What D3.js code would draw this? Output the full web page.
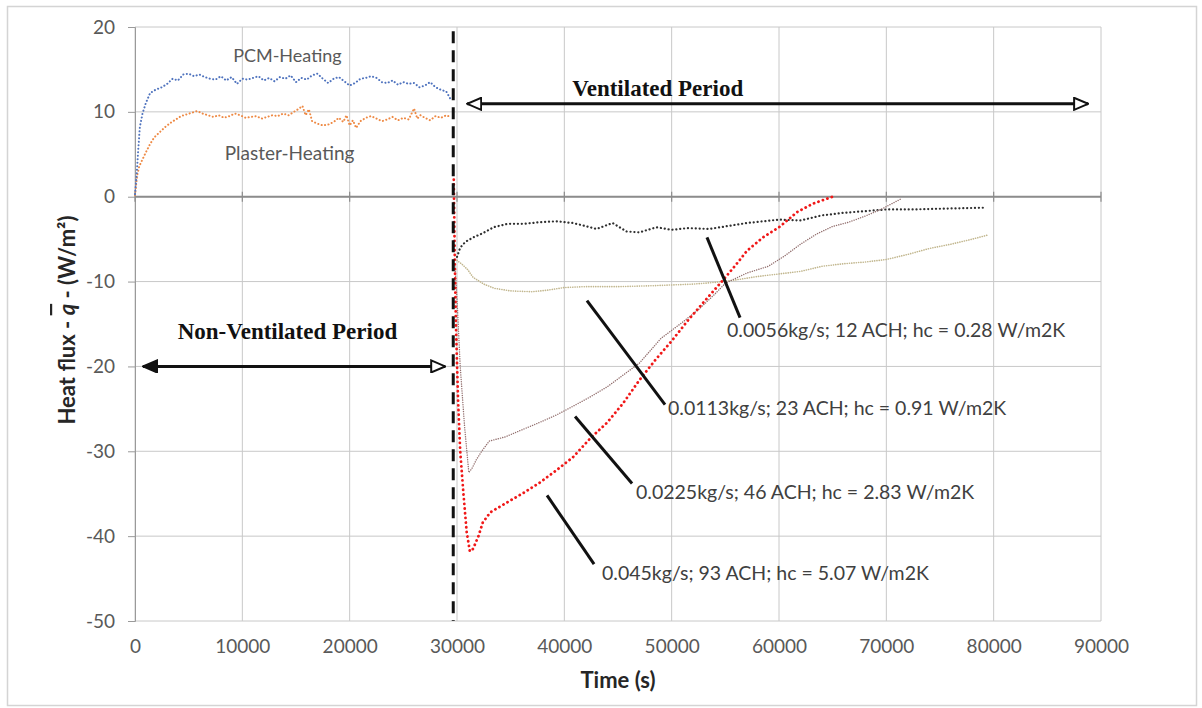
<!DOCTYPE html>
<html>
<head>
<meta charset="utf-8">
<script src="https://cdn.jsdelivr.net/npm/d3@7"></script>
<style>
  body { margin: 0; background: #fff; }
  text { font-family: Lato, "Open Sans", sans-serif; }
</style>
</head>
<body>
<svg id="chart"></svg>
<script>
// ---- data (time in s, heat flux in W/m2) ----
const xTicks = [0, 10000, 20000, 30000, 40000, 50000, 60000, 70000, 80000, 90000];
const yTicks = [20, 10, 0, -10, -20, -30, -40, -50];

const pcmHeating = [[0,0.3],[150,2.5],[300,5.5],[450,8.2],[700,9.8],[1000,11],[1400,12.2],[1900,12.6],[2500,12.9],[3000,13.3],[3500,13.9],[4000,13.7],[4500,14.4],[5000,14.5],[5500,14.2],[6000,14.4],[6500,14.1],[7000,13.9],[7500,13.8],[8000,14.2],[8500,13.7],[9000,14.1],[9500,13.3],[10000,13.9],[10500,13.8],[11000,14.0],[11500,14.2],[12000,13.7],[12500,14.0],[13000,13.6],[13500,14.1],[14000,13.9],[14500,14.3],[15000,13.5],[15500,14.0],[16000,13.8],[16500,14.3],[17000,14.5],[17500,13.9],[18000,13.4],[18500,13.9],[19000,14.1],[19500,13.6],[20000,13.1],[20500,13.4],[21000,13.9],[21500,14.0],[22000,14.2],[22500,14.0],[23000,13.5],[23500,13.4],[24000,13.7],[24500,13.2],[25000,13.5],[25500,13.3],[26000,13.4],[26500,12.9],[27000,13.1],[27500,13.5],[28000,12.9],[28500,12.6],[29000,12.4],[29400,11.5]];

const plasterHeating = [[0,0.2],[200,2.5],[400,3.6],[700,4.4],[1000,5.2],[1400,6.2],[1800,7.0],[2300,7.6],[2800,8.2],[3300,8.7],[3800,9.1],[4300,9.5],[4800,9.7],[5300,9.9],[5800,10.1],[6300,9.8],[6800,9.6],[7300,9.4],[7800,9.6],[8300,9.3],[8800,9.5],[9300,9.8],[9800,9.6],[10300,9.3],[10800,9.4],[11300,9.5],[11800,9.2],[12300,9.4],[12800,9.6],[13300,9.5],[13800,9.8],[14300,9.6],[14800,10.0],[15300,10.4],[15600,10.7],[15900,9.6],[16200,10.3],[16500,8.9],[17000,8.6],[17500,8.4],[18000,8.5],[18500,8.8],[19000,9.3],[19400,8.8],[19700,9.6],[20000,8.4],[20300,9.0],[20600,8.1],[21000,8.9],[21500,9.3],[22000,9.5],[22500,9.2],[23000,8.9],[23500,9.1],[24000,9.4],[24500,9.0],[25000,9.3],[25500,9.1],[26000,10.4],[26300,9.2],[26600,9.6],[27000,9.3],[27500,9.0],[28000,9.5],[28500,9.3],[29000,9.6],[29400,9.4]];

// 0.0056 kg/s
const vent0056 = [[30000,-7.1],[30300,-6.0],[30800,-5.3],[31500,-4.8],[32400,-4.3],[33400,-3.6],[34700,-3.2],[36200,-3.2],[37700,-3.0],[39300,-2.9],[40800,-3.1],[42100,-3.5],[43000,-3.8],[44500,-3.1],[45800,-4.1],[47000,-4.2],[48600,-3.6],[50000,-3.9],[51500,-3.7],[53500,-3.8],[55000,-3.5],[57000,-3.1],[58500,-2.9],[60000,-2.7],[62000,-2.8],[64000,-2.2],[66000,-1.9],[68000,-1.7],[70000,-1.5],[72500,-1.5],[75500,-1.4],[79000,-1.3]];

// 0.0113 kg/s
const vent0113 = [[30000,-7.5],[30500,-8.0],[31000,-8.6],[31500,-9.5],[32500,-10.3],[33500,-10.8],[35000,-11.1],[37000,-11.2],[38500,-11.0],[40000,-10.7],[42000,-10.6],[45000,-10.6],[48000,-10.5],[50000,-10.4],[52000,-10.3],[54000,-10.1],[56000,-9.8],[58000,-9.4],[60000,-9.1],[62000,-8.8],[64000,-8.2],[66000,-7.9],[68000,-7.7],[70000,-7.4],[72000,-6.8],[74000,-6.1],[76000,-5.6],[78000,-5.0],[79500,-4.5]];

// 0.0225 kg/s
const vent0225 = [[29800,-8],[30000,-12],[30300,-20],[30700,-27],[31100,-32.5],[31400,-32],[31800,-31],[32300,-30],[33000,-28.8],[34500,-28.3],[36000,-27.5],[37700,-26.6],[39300,-25.7],[40800,-24.7],[42400,-23.6],[44000,-22.4],[45500,-21.0],[47000,-19.6],[49000,-16.7],[51000,-14.8],[52500,-13.3],[54000,-11.5],[55000,-10.2],[57000,-9.0],[59000,-8.2],[60500,-7.0],[62000,-5.6],[63500,-4.4],[65000,-3.5],[66500,-3.0],[68000,-2.3],[69500,-1.5],[71300,-0.3]];

// 0.045 kg/s
const vent045 = [[29700,2],[29800,-8],[29900,-15],[30100,-24],[30300,-30],[30600,-35],[30900,-39.5],[31200,-41.8],[31500,-41.5],[32000,-40],[32400,-38.4],[33100,-37.2],[34700,-36],[36200,-34.9],[37700,-33.7],[39300,-32.2],[40800,-30.7],[42400,-28.5],[44000,-26.6],[45500,-24.3],[47000,-21.6],[48500,-19.2],[50000,-17],[51500,-14.6],[53000,-12.4],[54800,-9.8],[56000,-8.0],[57000,-6.4],[58500,-4.8],[60000,-3.6],[61700,-1.8],[63200,-0.8],[65000,0]];

const ventLabels = [
  "0.0056kg/s; 12 ACH; hc = 0.28 W/m2K",
  "0.0113kg/s; 23 ACH; hc = 0.91 W/m2K",
  "0.0225kg/s; 46 ACH; hc = 2.83 W/m2K",
  "0.045kg/s; 93 ACH; hc = 5.07 W/m2K"
];

// ---- layout ----
const W = 1202, H = 708;
const plot = { left: 135, right: 1101, top: 27, bottom: 621 };

const svg = d3.select("#chart").attr("width", W).attr("height", H);

const x = d3.scaleLinear().domain([0, 90000]).range([plot.left, plot.right]);
const y = d3.scaleLinear().domain([-50, 20]).range([plot.bottom, plot.top]);

// chart area border
svg.append("rect")
    .attr("x", 7.5).attr("y", 6.5)
    .attr("width", 1189).attr("height", 699)
    .attr("fill", "#fff").attr("stroke", "#d4d4d4").attr("stroke-width", 1.5);

// gridlines
svg.append("g")
    .selectAll("line")
    .data(xTicks)
    .join("line")
    .attr("x1", d => x(d)).attr("x2", d => x(d))
    .attr("y1", plot.top).attr("y2", plot.bottom)
    .attr("stroke", "#c8c8c8").attr("stroke-width", 1);

svg.append("g")
    .selectAll("line")
    .data(yTicks)
    .join("line")
    .attr("x1", plot.left).attr("x2", plot.right)
    .attr("y1", d => y(d)).attr("y2", d => y(d))
    .attr("stroke", "#c8c8c8").attr("stroke-width", 1);

// y axis
const yAxis = svg.append("g")
    .attr("transform", `translate(${plot.left},0)`)
    .call(d3.axisLeft(y).tickValues(yTicks).tickSize(7).tickPadding(13).tickFormat(d => String(d)));
yAxis.select(".domain").attr("stroke", "#9a9a9a");
yAxis.selectAll(".tick line").attr("stroke", "#9a9a9a");
yAxis.selectAll("text").attr("fill", "#595959").style("font-size", "19px")
    .style("font-family", "Lato, sans-serif");

// x axis line sits at y = 0 with crossing ticks; labels at the bottom
svg.append("line")
    .attr("x1", plot.left).attr("x2", plot.right)
    .attr("y1", y(0)).attr("y2", y(0))
    .attr("stroke", "#8c8c8c").attr("stroke-width", 2);
svg.append("g")
    .selectAll("line")
    .data(xTicks)
    .join("line")
    .attr("x1", d => x(d)).attr("x2", d => x(d))
    .attr("y1", y(0) - 5).attr("y2", y(0) + 5)
    .attr("stroke", "#8c8c8c").attr("stroke-width", 1.2);

const xAxis = svg.append("g")
    .attr("transform", `translate(0,${plot.bottom})`)
    .call(d3.axisBottom(x).tickValues(xTicks).tickSize(0).tickPadding(19).tickFormat(d => String(d)));
xAxis.select(".domain").remove();
xAxis.selectAll("text").attr("fill", "#595959").style("font-size", "19px")
    .style("font-family", "Lato, sans-serif");

// axis titles
svg.append("text")
    .attr("x", x(45000)).attr("y", 688)
    .attr("text-anchor", "middle")
    .attr("fill", "#262626")
    .style("font-size", "22px").style("font-weight", "bold")
    .text("Time (s)");

const yTitle = svg.append("text")
    .attr("transform", `translate(69,${(plot.top + plot.bottom) / 2 - 4}) rotate(-90)`)
    .attr("text-anchor", "middle")
    .attr("dominant-baseline", "middle")
    .attr("fill", "#262626")
    .style("font-size", "22px").style("font-weight", "bold");
yTitle.append("tspan").text("Heat flux  - ");
yTitle.append("tspan").style("font-style", "italic").style("text-decoration", "overline").text("q");
yTitle.append("tspan").text(" - (W/m²)");

// series
const line = d3.line().x(d => x(d[0])).y(d => y(d[1]));

const series = [
  { data: plasterHeating, color: "#ee8a45", width: 2, dash: "0.1,3.4" },
  { data: pcmHeating, color: "#4f73be", width: 2, dash: "0.1,3.4" },
  { data: vent0113, color: "#c2b78f", width: 1.6, dash: "0.1,2.2" },
  { data: vent0056, color: "#2f2f2f", width: 2.2, dash: "0.1,3.8" },
  { data: vent0225, color: "#93706f", width: 1.4, dash: "0.1,2.2" },
  { data: vent045, color: "#f01818", width: 2.8, dash: "0.1,4.6" }
];

svg.append("g")
    .selectAll("path")
    .data(series)
    .join("path")
    .attr("d", d => line(d.data))
    .attr("fill", "none")
    .attr("stroke", d => d.color)
    .attr("stroke-width", d => d.width)
    .attr("stroke-dasharray", d => d.dash)
    .attr("stroke-linecap", "round");

// dividing line between periods
svg.append("line")
    .attr("x1", x(29650)).attr("x2", x(29650))
    .attr("y1", y(19.5)).attr("y2", y(-50))
    .attr("stroke", "#111").attr("stroke-width", 3)
    .attr("stroke-dasharray", "12,7");

// arrow heads
const defs = svg.append("defs");
function addHead(id, filled, orient) {
    defs.append("marker")
        .attr("id", id)
        .attr("viewBox", "0 0 16 14")
        .attr("refX", 15).attr("refY", 7)
        .attr("markerWidth", 16).attr("markerHeight", 14)
        .attr("markerUnits", "userSpaceOnUse")
        .attr("orient", orient)
        .append("path")
        .attr("d", "M1,1 L15,7 L1,13 Z")
        .attr("fill", filled ? "#111" : "#fff")
        .attr("stroke", "#111").attr("stroke-width", 2)
        .attr("stroke-linejoin", "miter");
}
addHead("headOpen", false, "auto");
addHead("headOpenStart", false, "auto-start-reverse");
addHead("headFilledStart", true, "auto-start-reverse");

svg.append("line")
    .attr("x1", x(30950)).attr("x2", x(88800))
    .attr("y1", y(10.95)).attr("y2", y(10.95))
    .attr("stroke", "#111").attr("stroke-width", 3)
    .attr("marker-start", "url(#headOpenStart)")
    .attr("marker-end", "url(#headOpen)");

svg.append("line")
    .attr("x1", x(750)).attr("x2", x(28900))
    .attr("y1", y(-20)).attr("y2", y(-20))
    .attr("stroke", "#111").attr("stroke-width", 3)
    .attr("marker-start", "url(#headFilledStart)")
    .attr("marker-end", "url(#headOpen)");

// period titles
svg.append("text")
    .attr("x", x(48700)).attr("y", y(11.9))
    .attr("text-anchor", "middle")
    .attr("fill", "#111")
    .style("font-family", "'Liberation Serif', 'DejaVu Serif', serif")
    .style("font-size", "23px").style("font-weight", "bold")
    .text("Ventilated Period");

svg.append("text")
    .attr("x", x(14200)).attr("y", y(-16.8))
    .attr("text-anchor", "middle")
    .attr("fill", "#111")
    .style("font-family", "'Liberation Serif', 'DejaVu Serif', serif")
    .style("font-size", "23px").style("font-weight", "bold")
    .text("Non-Ventilated Period");

// heating labels
svg.append("text")
    .attr("x", x(14200)).attr("y", y(16.4))
    .attr("text-anchor", "middle").attr("dominant-baseline", "middle")
    .attr("fill", "#595959").style("font-size", "18px")
    .text("PCM-Heating");
svg.append("text")
    .attr("x", x(14400)).attr("y", y(4.9))
    .attr("text-anchor", "middle").attr("dominant-baseline", "middle")
    .attr("fill", "#595959").style("font-size", "19px")
    .text("Plaster-Heating");

// leader lines and flow-rate labels (data coordinates)
const leaders = [
  { from: [53290, -4.8], to: [56370, -14.25], text: [55160, -16.0] },
  { from: [42110, -12.25], to: [49380, -24.5], text: [49660, -25.1] },
  { from: [41000, -25.9], to: [46310, -33.8], text: [46680, -35.0] },
  { from: [38390, -35.2], to: [42770, -43.3], text: [43510, -44.6] }
];

const ann = svg.append("g");
ann.selectAll("line")
    .data(leaders)
    .join("line")
    .attr("x1", d => x(d.from[0])).attr("y1", d => y(d.from[1]))
    .attr("x2", d => x(d.to[0])).attr("y2", d => y(d.to[1]))
    .attr("stroke", "#111").attr("stroke-width", 3);

ann.selectAll("text")
    .data(leaders)
    .join("text")
    .attr("x", d => x(d.text[0])).attr("y", d => y(d.text[1]))
    .attr("dominant-baseline", "middle")
    .attr("fill", "#404040")
    .style("font-size", "19.5px")
    .text((d, i) => ventLabels[i]);
</script>
</body>
</html>
